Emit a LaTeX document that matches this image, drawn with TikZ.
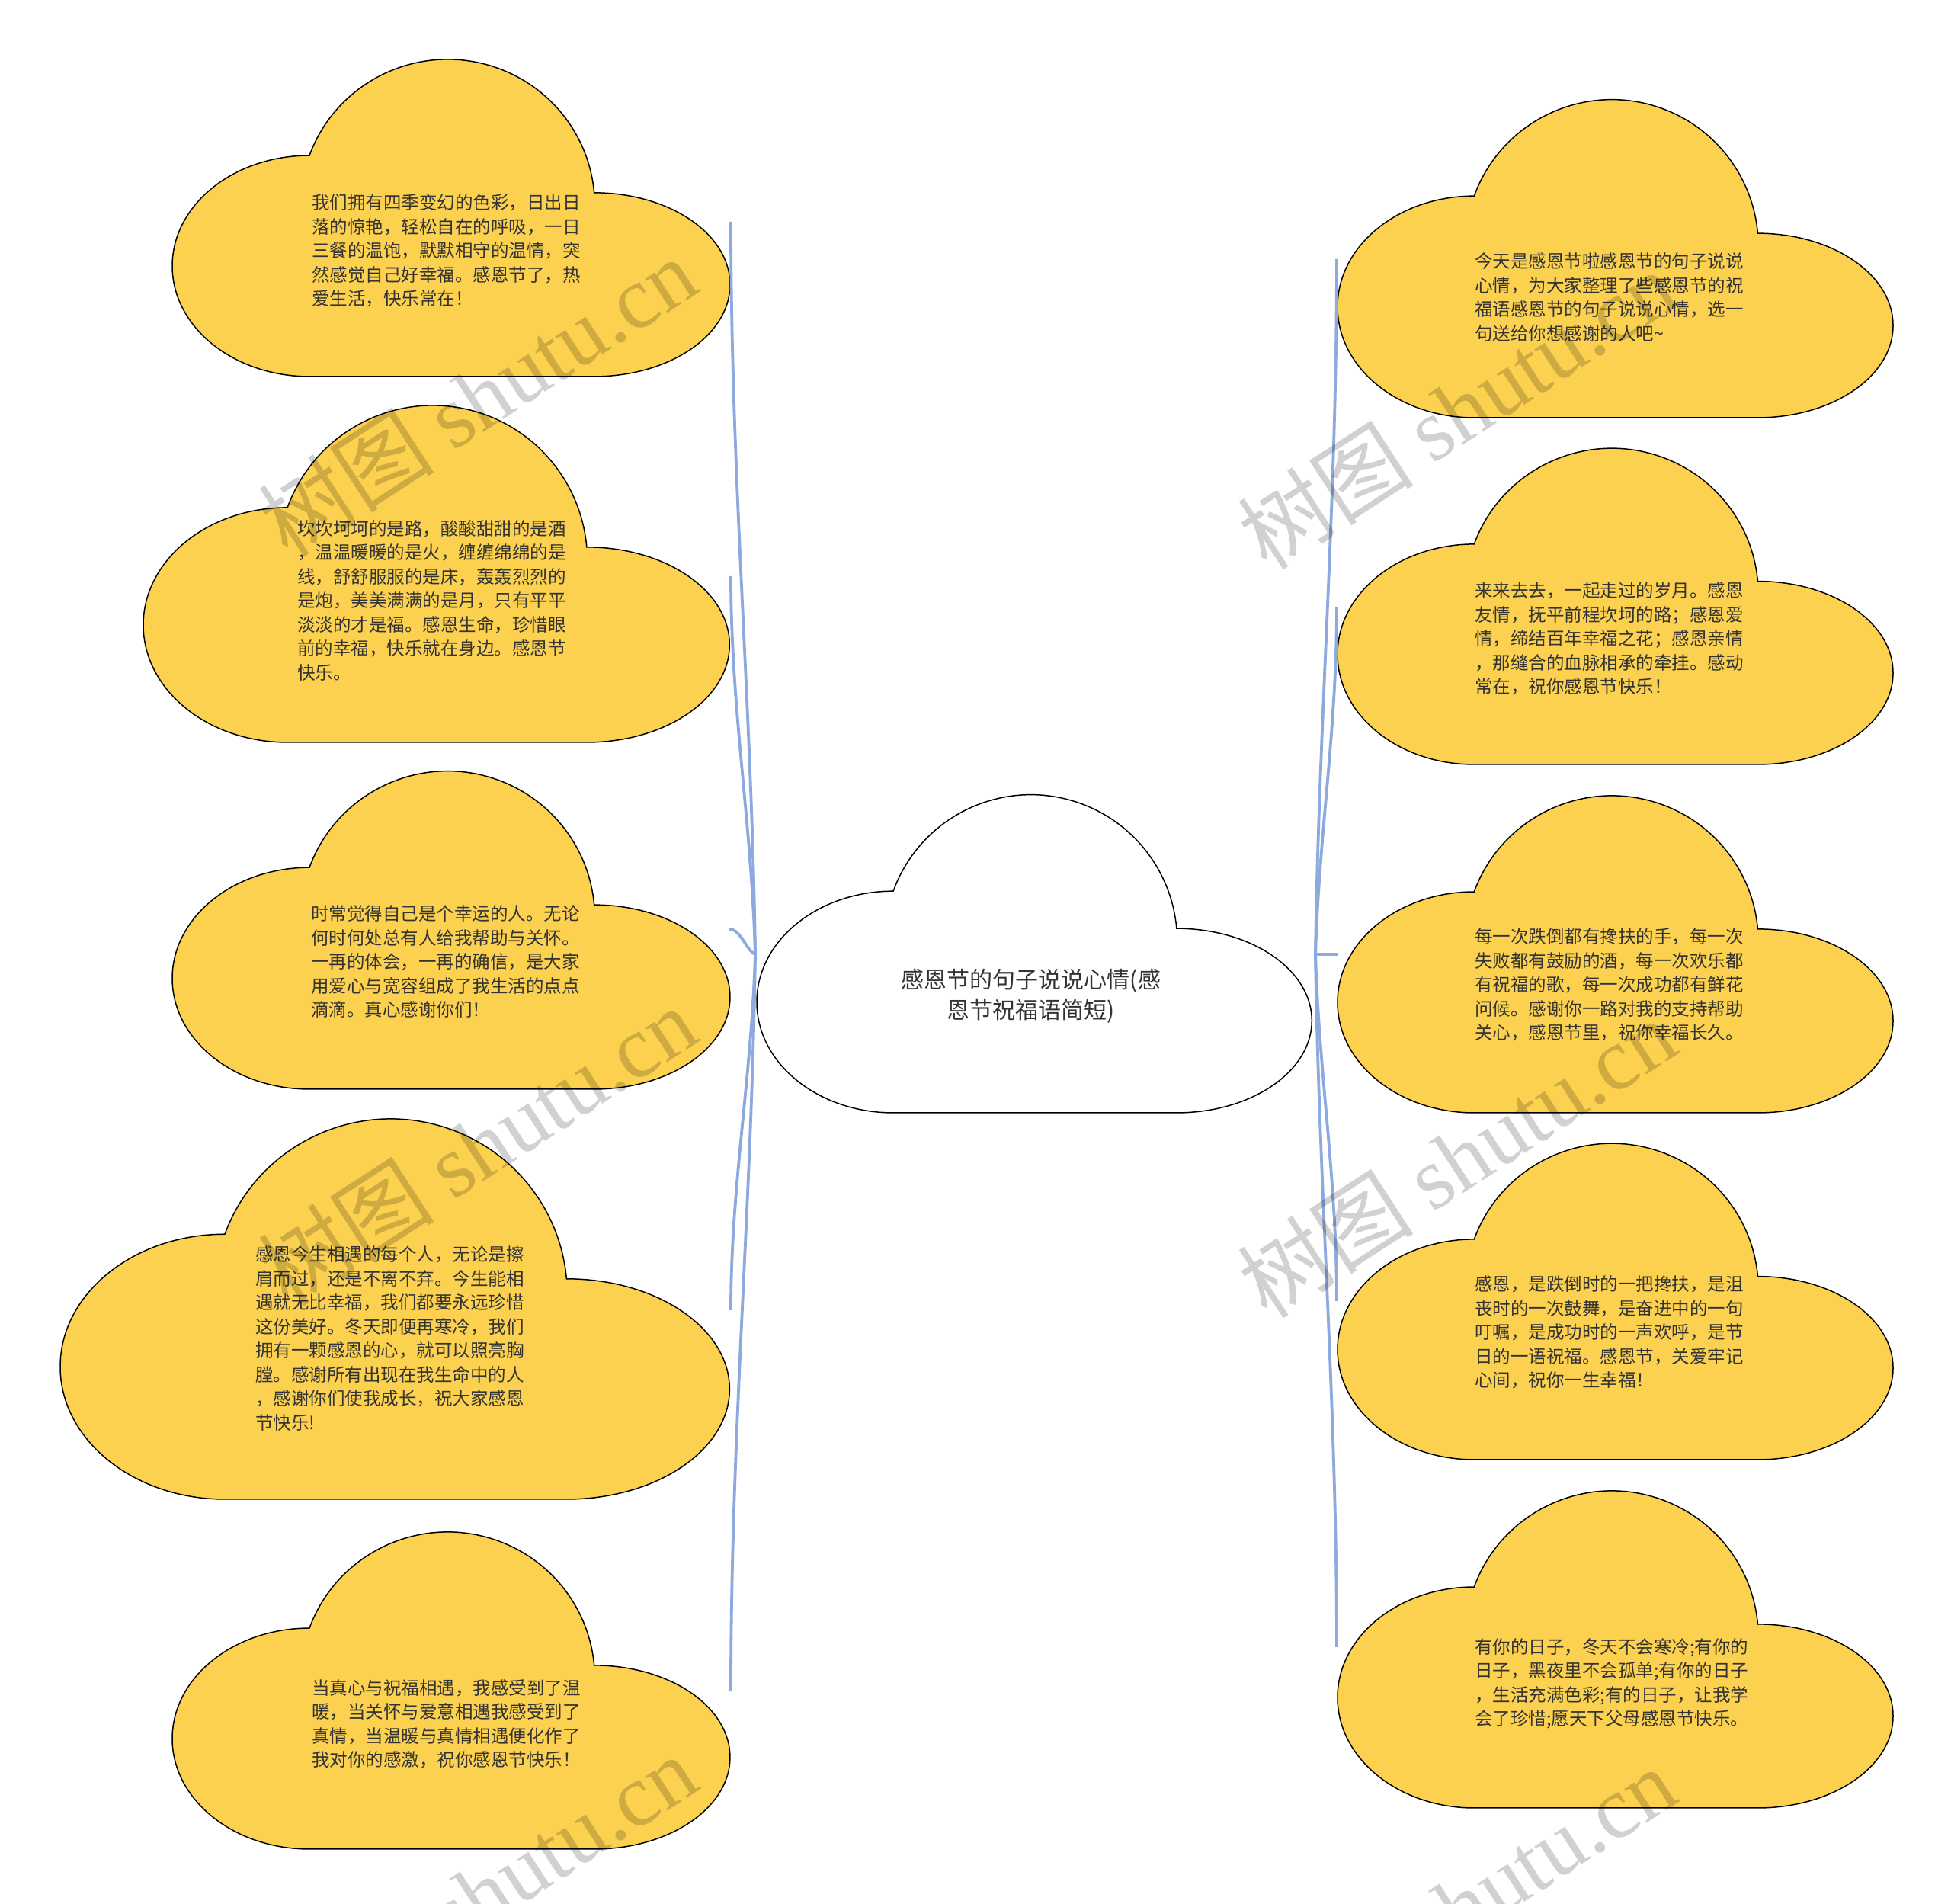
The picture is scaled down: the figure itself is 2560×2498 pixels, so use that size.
\documentclass[tikz,border=0pt]{standalone}
\usepackage{fontspec}
\newfontfamily\cjk{Noto Sans CJK SC}
\newfontfamily\wmlat{Liberation Serif}
\definecolor{cloudfill}{HTML}{FCD14F}
\definecolor{connblue}{HTML}{8DAADF}
\definecolor{txtcol}{HTML}{333333}
\newcommand{\cloudshape}[5]{%
 \begin{scope}[shift={(#2,#3)},xscale=#4,yscale=#5]
  \path[#1] (553.7,0) -- (180,0)
    arc[start angle=270,end angle=90,x radius=180,y radius=146]
    arc[start angle=160,end angle=5,radius=193]
    arc[start angle=90,end angle=-90,x radius=178.3,y radius=121.4] -- cycle;
 \end{scope}}
\begin{document}
\begin{tikzpicture}[x=1pt,y=1pt,
  ycloud/.style={fill=cloudfill,draw=black,line width=1.5pt},
  wcloud/.style={fill=white,draw=black,line width=1.5pt},
  ctext/.style={anchor=west,align=left,inner sep=0pt,text=txtcol,font=\cjk\fontsize{23.5}{31.5}\selectfont},
  roottext/.style={anchor=center,align=center,inner sep=0pt,text=txtcol,font=\cjk\fontsize{30}{40}\selectfont},
  conn/.style={draw=connblue,line width=3.8pt},
  wmark/.style={rotate=33,text=black,opacity=0.18,inner sep=0pt,font=\fontsize{116}{120}\selectfont}]
\useasboundingbox (0,0) rectangle (2560,2498);
\clip (0,0) rectangle (2560,2498);
\fill[white] (0,0) rectangle (2560,2498);

% clouds
\cloudshape{ycloud}{226}{2004}{1}{0.993}
\cloudshape{ycloud}{188}{1524}{1.051}{1.055}
\cloudshape{ycloud}{226}{1069}{1}{0.996}
\cloudshape{ycloud}{79}{531}{1.2}{1.191}
\cloudshape{ycloud}{226}{72}{1}{0.993}
\cloudshape{ycloud}{1755}{1950}{0.996}{0.996}
\cloudshape{ycloud}{1755}{1495}{0.996}{0.99}
\cloudshape{ycloud}{1755}{1038}{0.996}{0.993}
\cloudshape{ycloud}{1755}{583}{0.996}{0.99}
\cloudshape{ycloud}{1755}{126}{0.996}{0.993}
\cloudshape{wcloud}{993}{1038}{0.995}{0.996}

% texts
\node[roottext] (c) at (1353,1191) {感恩节的句子说说心情(感\\恩节祝福语简短)};
\node[ctext] (l1) at (409,2169) {我们拥有四季变幻的色彩，日出日\\落的惊艳，轻松自在的呼吸，一日\\三餐的温饱，默默相守的温情，突\\然感觉自己好幸福。感恩节了，热\\爱生活，快乐常在！};
\node[ctext] (l2) at (390,1710) {坎坎坷坷的是路，酸酸甜甜的是酒\\，温温暖暖的是火，缠缠绵绵的是\\线，舒舒服服的是床，轰轰烈烈的\\是炮，美美满满的是月，只有平平\\淡淡的才是福。感恩生命，珍惜眼\\前的幸福，快乐就在身边。感恩节\\快乐。};
\node[ctext] (l3) at (408,1236) {时常觉得自己是个幸运的人。无论\\何时何处总有人给我帮助与关怀。\\一再的体会，一再的确信，是大家\\用爱心与宽容组成了我生活的点点\\滴滴。真心感谢你们！};
\node[ctext] (l4) at (335,742) {感恩今生相遇的每个人，无论是擦\\肩而过，还是不离不弃。今生能相\\遇就无比幸福，我们都要永远珍惜\\这份美好。冬天即便再寒冷，我们\\拥有一颗感恩的心，就可以照亮胸\\膛。感谢所有出现在我生命中的人\\，感谢你们使我成长，祝大家感恩\\节快乐!};
\node[ctext] (l5) at (409,236) {当真心与祝福相遇，我感受到了温\\暖，当关怀与爱意相遇我感受到了\\真情，当温暖与真情相遇便化作了\\我对你的感激，祝你感恩节快乐！};
\node[ctext] (r1) at (1935,2108) {今天是感恩节啦感恩节的句子说说\\心情，为大家整理了些感恩节的祝\\福语感恩节的句子说说心情，选一\\句送给你想感谢的人吧\textasciitilde};
\node[ctext] (r2) at (1935,1660) {来来去去，一起走过的岁月。感恩\\友情，抚平前程坎坷的路；感恩爱\\情，缔结百年幸福之花；感恩亲情\\，那缝合的血脉相承的牵挂。感动\\常在，祝你感恩节快乐！};
\node[ctext] (r3) at (1935,1206) {每一次跌倒都有搀扶的手，每一次\\失败都有鼓励的酒，每一次欢乐都\\有祝福的歌，每一次成功都有鲜花\\问候。感谢你一路对我的支持帮助\\关心，感恩节里，祝你幸福长久。};
\node[ctext] (r4) at (1935,750) {感恩，是跌倒时的一把搀扶，是沮\\丧时的一次鼓舞，是奋进中的一句\\叮嘱，是成功时的一声欢呼，是节\\日的一语祝福。感恩节，关爱牢记\\心间，祝你一生幸福！};
\node[ctext] (r5) at (1935,289) {有你的日子，冬天不会寒冷;有你的\\日子，黑夜里不会孤单;有你的日子\\，生活充满色彩;有的日子，让我学\\会了珍惜;愿天下父母感恩节快乐。};

% connector anchors
\coordinate (cl) at (991,1246);
\coordinate (cr) at (1726,1246);
\coordinate (e1) at (959,2207);
\coordinate (e2) at (959,1742);
\coordinate (e3) at (957,1279);
\coordinate (e4) at (959,779);
\coordinate (e5) at (959,280);
\coordinate (f1) at (1754,2158);
\coordinate (f2) at (1754,1701);
\coordinate (f3) at (1756,1246);
\coordinate (f4) at (1754,791);
\coordinate (f5) at (1754,337);

\draw[conn] (cl) .. controls +(-5,336) and +(0,-336) .. (e1);
\draw[conn] (cl) .. controls +(-5,174) and +(0,-174) .. (e2);
\draw[conn] (cl) .. controls +(-12,5) and +(15,0) .. (e3);
\draw[conn] (cl) .. controls +(-5,-163) and +(0,163) .. (e4);
\draw[conn] (cl) .. controls +(-5,-338) and +(0,338) .. (e5);
\draw[conn] (cr) .. controls +(5,319) and +(0,-319) .. (f1);
\draw[conn] (cr) .. controls +(5,160) and +(0,-160) .. (f2);
\draw[conn] (cr) -- (f3);
\draw[conn] (cr) .. controls +(5,-160) and +(0,160) .. (f4);
\draw[conn] (cr) .. controls +(5,-318) and +(0,318) .. (f5);

% watermarks
\foreach \wx/\wy/\nm in {626/1978/wa,626/995/wb,626/13/wc,1911/1961/wd,1911/979/we,1911/-3/wf}{
  \node[wmark] (\nm) at (\wx,\wy) {\cjk 树图\ \wmlat shutu.cn};
}
\end{tikzpicture}
\end{document}
